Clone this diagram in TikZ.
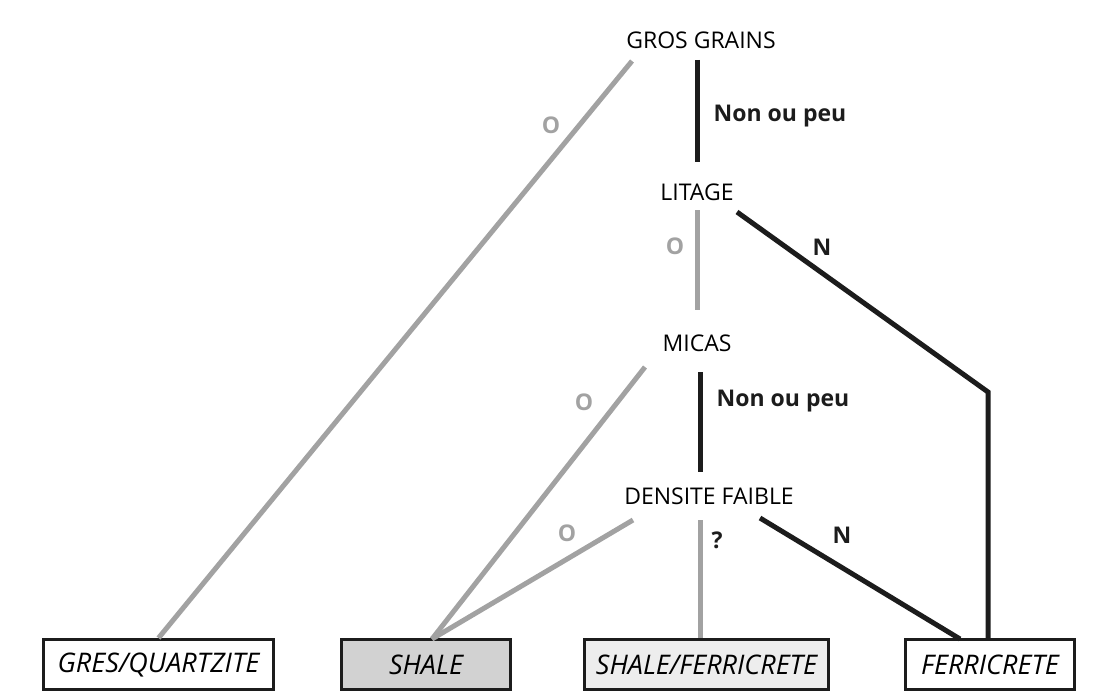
\documentclass[tikz,border=0pt]{standalone}
\usepackage{fontspec}
\setmainfont{Open Sans}
\usepackage{xcolor}
\usetikzlibrary{calc}
\definecolor{ouigris}{HTML}{A2A2A2}
\definecolor{nonnoir}{HTML}{1C1C1C}
\definecolor{shalefill}{HTML}{D2D2D2}
\definecolor{mixfill}{HTML}{EDEDED}

\begin{document}
\begin{tikzpicture}[x=1pt, y=-1pt,
  crit/.style={font=\fontsize{23}{27}\selectfont, inner sep=0pt},
  rock/.style={draw=nonnoir, line width=3pt, minimum height=50pt, inner sep=0pt, font=\fontsize{27}{31}\selectfont\itshape},
  oui/.style={draw=ouigris, line width=5pt},
  non/.style={draw=nonnoir, line width=5pt},
  olabel/.style={font=\fontsize{23}{27}\selectfont\bfseries, text=ouigris, inner sep=0pt},
  nlabel/.style={font=\fontsize{23}{27}\selectfont\bfseries, text=nonnoir, inner sep=0pt}
]
\useasboundingbox (0,0) rectangle (1099,693);

% criteres
\node[crit] (gros) at (701, 40) {GROS GRAINS};
\node[crit] (litage) at (697, 192) {LITAGE};
\node[crit] (micas) at (697, 343) {MICAS};
\node[crit] (densite) at (709, 496) {DENSITE FAIBLE};

% roches
\node[rock, minimum width=230pt] (gres) at (158.5, 664.5) {GRES/QUARTZITE};
\node[rock, minimum width=169pt, fill=shalefill] (shale) at (426, 664.5) {SHALE};
\node[rock, minimum width=244pt, fill=mixfill] (shfe) at (706.5, 664.5) {SHALE/FERRICRETE};
\node[rock, minimum width=169pt] (ferri) at (990, 664.5) {FERRICRETE};

% bouts de traits
\coordinate (gros-o) at (632, 61);
\coordinate (gros-n) at (697, 60);
\coordinate (lit-in) at (697, 162);
\coordinate (lit-o) at (697, 210);
\coordinate (lit-n) at (737, 212);
\coordinate (coude) at (988, 392);
\coordinate (mic-in) at (697, 310);
\coordinate (mic-o) at (645, 367);
\coordinate (mic-n) at (700, 372);
\coordinate (den-in) at (700, 472);
\coordinate (den-o) at (633, 520);
\coordinate (den-q) at (700, 520);
\coordinate (den-n) at (760, 518);
\coordinate (sh-top) at (432, 639);

\draw[oui] (gros-o) -- (gres.north);
\draw[non] (gros-n) -- (lit-in);
\draw[oui] (lit-o) -- (mic-in);
\draw[non] (lit-n) -- (coude) -- (coude |- ferri.north);
\draw[oui] (mic-o) -- (sh-top);
\draw[non] (mic-n) -- (den-in);
\draw[oui] (den-o) -- (sh-top);
\draw[oui] (den-q) -- (den-q |- shfe.north);
\draw[non] (den-n) -- (960, 639);

% etiquettes
\node[olabel] (o1) at (551, 125) {O};
\node[nlabel] (np1) at (780, 116) {Non ou peu};
\node[olabel] (o2) at (675, 246) {O};
\node[nlabel] (n1) at (822, 247) {N};
\node[olabel] (o3) at (584, 402) {O};
\node[nlabel] (np2) at (783, 401) {Non ou peu};
\node[olabel] (o4) at (567, 533) {O};
\node[nlabel] (q1) at (717, 540) {?};
\node[nlabel] (n2) at (842, 535) {N};

\end{tikzpicture}
\end{document}
